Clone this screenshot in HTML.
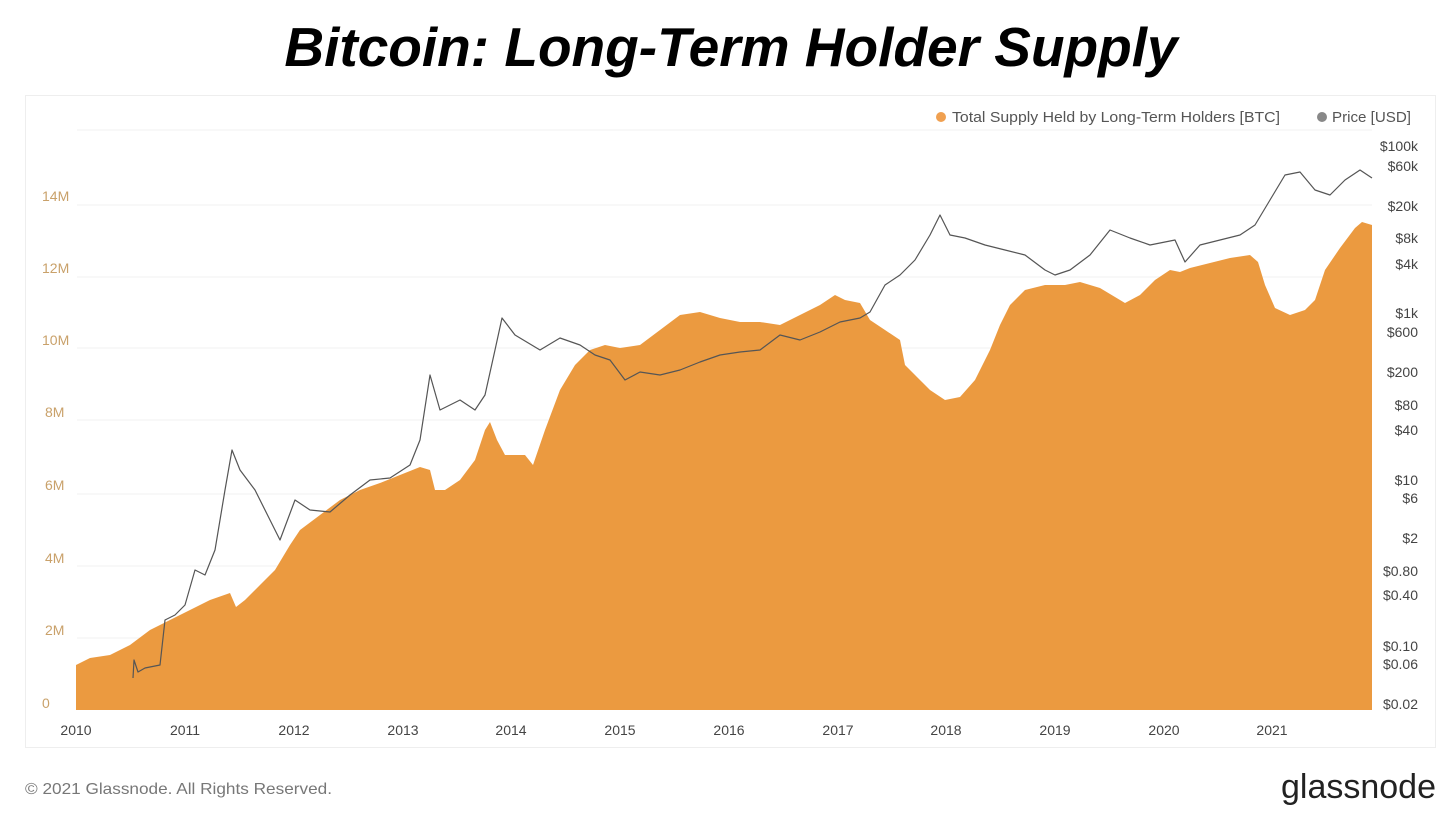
<!DOCTYPE html>
<html><head><style>
body{margin:0;background:#fff;width:1456px;height:815px;overflow:hidden;font-family:"Liberation Sans",sans-serif;}
</style></head><body>
<svg width="1456" height="815" xmlns="http://www.w3.org/2000/svg" font-family="Liberation Sans, sans-serif">
<text x="731" y="66" text-anchor="middle" font-size="55" font-weight="bold" font-style="italic" fill="#000">Bitcoin: Long-Term Holder Supply</text>
<rect x="25.5" y="95.5" width="1410" height="652" fill="#fff" stroke="#eee"/>
<g stroke="#f2f2f2" stroke-width="1">
<line x1="77" y1="130" x2="1372" y2="130"/>
<line x1="77" y1="205" x2="1372" y2="205"/>
<line x1="77" y1="277" x2="1372" y2="277"/>
<line x1="77" y1="348" x2="1372" y2="348"/>
<line x1="77" y1="420" x2="1372" y2="420"/>
<line x1="77" y1="494" x2="1372" y2="494"/>
<line x1="77" y1="566" x2="1372" y2="566"/>
<line x1="77" y1="638" x2="1372" y2="638"/>
</g>
<g font-size="14" fill="#c9a16a">
<text x="42" y="201">14M</text><text x="42" y="273">12M</text><text x="42" y="345">10M</text>
<text x="45" y="417">8M</text><text x="45" y="490">6M</text><text x="45" y="563">4M</text>
<text x="45" y="635">2M</text><text x="42" y="708">0</text>
</g>
<circle cx="941" cy="117" r="5" fill="#f0a050"/>
<text x="952" y="122" font-size="14.5" fill="#555" textLength="328" lengthAdjust="spacingAndGlyphs">Total Supply Held by Long-Term Holders [BTC]</text>
<circle cx="1322" cy="117" r="5" fill="#888"/>
<text x="1332" y="122" font-size="14.5" fill="#555" textLength="79" lengthAdjust="spacingAndGlyphs">Price [USD]</text>
<path fill="#eb9a40" d="M76,710 L76,665 90,658 110,655 130,645 150,630 170,620 190,610 210,600 230,593 236,607 245,600 260,585 275,570 290,545 300,530 320,515 340,500 360,490 380,483 400,475 420,467 430,470 435,490 445,490 460,480 475,460 485,430 490,422 497,440 505,455 525,455 533,465 545,430 560,390 575,365 590,350 605,345 620,348 640,345 660,330 680,315 700,312 720,318 740,322 760,322 780,325 800,315 820,305 835,295 845,300 860,303 870,320 885,330 900,340 905,365 915,375 930,390 945,400 960,397 975,380 990,350 1000,325 1010,305 1025,290 1045,285 1065,285 1080,282 1100,288 1115,297 1125,303 1140,295 1155,280 1170,270 1180,272 1190,268 1210,263 1230,258 1250,255 1258,262 1265,285 1275,308 1290,315 1305,310 1315,300 1325,270 1340,248 1355,228 1362,222 1372,225 1372,710 Z"/>
<polyline fill="none" stroke="#555" stroke-width="1.2" stroke-linejoin="round" points="133,678 134,660 138,672 145,668 160,665 165,620 175,615 185,605 195,570 205,575 215,550 225,490 232,450 240,470 255,490 270,520 280,540 295,500 310,510 330,512 350,495 370,480 390,478 410,465 420,440 430,375 440,410 460,400 475,410 485,395 495,350 502,318 515,335 540,350 560,338 580,345 595,355 610,360 625,380 640,372 660,375 680,370 700,362 720,355 740,352 760,350 780,335 800,340 820,332 840,322 860,318 870,312 885,285 900,275 915,260 930,235 940,215 950,235 965,238 985,245 1005,250 1025,255 1045,270 1055,275 1070,270 1090,255 1110,230 1130,238 1150,245 1175,240 1185,262 1200,245 1220,240 1240,235 1255,225 1270,200 1285,175 1300,172 1315,190 1330,195 1345,180 1360,170 1372,178"/>
<g font-size="14" fill="#444" text-anchor="end">
<text x="1418" y="151">$100k</text><text x="1418" y="171">$60k</text><text x="1418" y="211">$20k</text>
<text x="1418" y="243">$8k</text><text x="1418" y="269">$4k</text><text x="1418" y="318">$1k</text>
<text x="1418" y="337">$600</text><text x="1418" y="377">$200</text><text x="1418" y="410">$80</text>
<text x="1418" y="435">$40</text><text x="1418" y="485">$10</text><text x="1418" y="503">$6</text>
<text x="1418" y="543">$2</text><text x="1418" y="576">$0.80</text><text x="1418" y="600">$0.40</text>
<text x="1418" y="651">$0.10</text><text x="1418" y="669">$0.06</text><text x="1418" y="709">$0.02</text>
</g>
<g font-size="14" fill="#444" text-anchor="middle">
<text x="76" y="735">2010</text><text x="185" y="735">2011</text><text x="294" y="735">2012</text>
<text x="403" y="735">2013</text><text x="511" y="735">2014</text><text x="620" y="735">2015</text>
<text x="729" y="735">2016</text><text x="838" y="735">2017</text><text x="946" y="735">2018</text>
<text x="1055" y="735">2019</text><text x="1164" y="735">2020</text><text x="1272" y="735">2021</text>
</g>
<text x="25" y="794" font-size="16" fill="#777" textLength="307" lengthAdjust="spacingAndGlyphs">© 2021 Glassnode. All Rights Reserved.</text>
<text x="1436" y="798" font-size="34" fill="#222" text-anchor="end">glassnode</text>
</svg>
</body></html>
